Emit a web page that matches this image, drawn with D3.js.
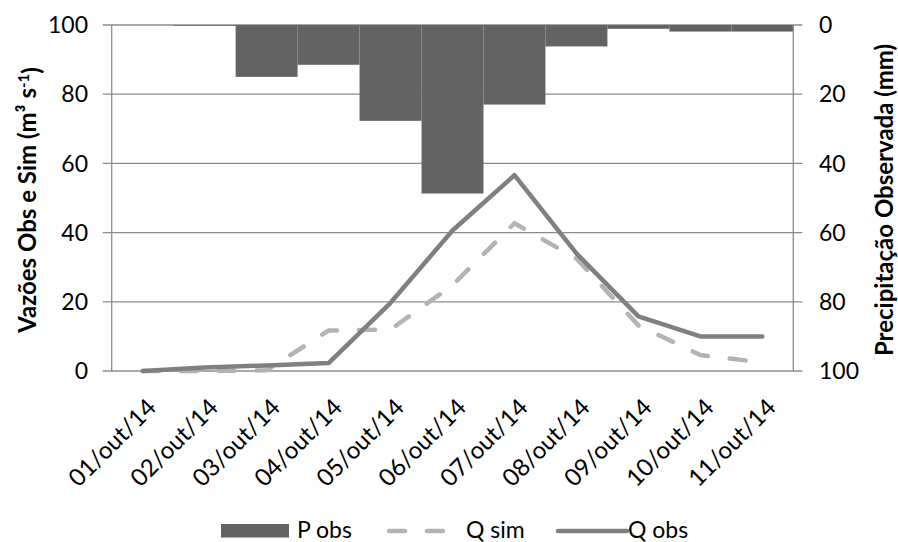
<!DOCTYPE html>
<html>
<head>
<meta charset="utf-8">
<script src="https://cdn.jsdelivr.net/npm/d3@7"></script>
<style>
  body { margin: 0; background: #fff; }
  text { font-family: Lato, "Open Sans", sans-serif; fill: #000; }
</style>
</head>
<body>
<div id="chart"></div>
<script>
// values
var days = ["01/out/14","02/out/14","03/out/14","04/out/14","05/out/14","06/out/14",
            "07/out/14","08/out/14","09/out/14","10/out/14","11/out/14"]
var pObs = [0, 0.2, 15, 11.5, 27.7, 48.7, 23, 6.2, 1.1, 1.9, 1.9]
var qSim = [0, 0, 0.2, 11.7, 12, 24.8, 42.7, 32.5, 13.2, 4.6, 2.5]
var qObs = [0, 1, 1.6, 2.3, 19.7, 40.6, 56.6, 34, 15.8, 10, 10]
var yTicks = [0, 20, 40, 60, 80, 100]

var W = 898, H = 542
var plotL = 111.7, plotR = 793.3, plotT = 25, plotB = 371

var svg = d3.select("#chart").append("svg").attr("width", W).attr("height", H)

var x = d3.scaleBand().domain(days).range([plotL, plotR]).padding(0)
var yL = d3.scaleLinear().domain([0, 100]).range([plotB, plotT])
var yR = d3.scaleLinear().domain([0, 100]).range([plotT, plotB])

// gridlines (with tick stubs on both sides)
svg.append("g").selectAll("line").data(yTicks).enter().append("line")
  .attr("x1", plotL - 9).attr("x2", plotR + 9)
  .attr("y1", d => yL(d)).attr("y2", d => yL(d))
  .style("stroke", "#8c8c8c").style("stroke-width", 1.3)

// precipitation bars hanging from the top
svg.append("g").selectAll("rect").data(pObs).enter().append("rect")
  .attr("x", (d, i) => x(days[i]))
  .attr("width", x.bandwidth())
  .attr("y", yR(0))
  .attr("height", d => yR(d) - yR(0))
  .style("fill", "#636363")

// axis lines
svg.append("line").attr("x1", plotL).attr("x2", plotL).attr("y1", plotT).attr("y2", plotB)
  .style("stroke", "#8c8c8c").style("stroke-width", 1.3)
svg.append("line").attr("x1", plotR).attr("x2", plotR).attr("y1", plotT).attr("y2", plotB)
  .style("stroke", "#8c8c8c").style("stroke-width", 1.3)

var cx = d => x(d) + x.bandwidth() / 2
var line = d3.line().x((d, i) => cx(days[i])).y(d => yL(d))

svg.append("path").datum(qSim).attr("d", line)
  .style("fill", "none").style("stroke", "#b3b3b3").style("stroke-width", 4.5)
  .style("stroke-dasharray", "16,22").style("stroke-linecap", "round")

svg.append("path").datum(qObs).attr("d", line)
  .style("fill", "none").style("stroke", "#808080").style("stroke-width", 4.5)
  .style("stroke-linejoin", "round").style("stroke-linecap", "round")

// tick labels
svg.append("g").selectAll("text").data(yTicks).enter().append("text")
  .attr("x", 88).attr("y", d => yL(d)).attr("dy", "0.36em")
  .attr("text-anchor", "end").style("font-size", "23px").text(d => d)

svg.append("g").selectAll("text").data(yTicks).enter().append("text")
  .attr("x", 819).attr("y", d => yR(d)).attr("dy", "0.36em")
  .style("font-size", "23px").text(d => d)

svg.append("g").selectAll("text").data(days).enter().append("text")
  .attr("transform", d => "translate(" + (cx(d) + 15) + "," + 409 + ") rotate(-45)")
  .attr("text-anchor", "end").style("font-size", "24px").text(d => d)

// axis titles
var lt = svg.append("text")
  .attr("transform", "translate(36," + ((plotT + plotB) / 2 + 2) + ") rotate(-90)")
  .attr("text-anchor", "middle").style("font-size", "24px").style("font-weight", "bold")
lt.append("tspan").text("Vazões Obs e Sim (m³ s")
lt.append("tspan").attr("dy", "-0.45em").style("font-size", "15px").text("-1")
lt.append("tspan").attr("dy", "0.45em").text(")")

svg.append("text")
  .attr("transform", "translate(893," + ((plotT + plotB) / 2 + 2) + ") rotate(-90)")
  .attr("text-anchor", "middle").style("font-size", "24px").style("font-weight", "bold")
  .text("Precipitação Observada (mm)")

// legend
var lg = svg.append("g")
lg.append("rect").attr("x", 221).attr("y", 524).attr("width", 68).attr("height", 13.5).style("fill", "#636363")
lg.append("text").attr("x", 297).attr("y", 538).style("font-size", "23px").text("P obs")
lg.append("line").attr("x1", 389).attr("x2", 450).attr("y1", 531).attr("y2", 531)
  .style("stroke", "#b3b3b3").style("stroke-width", 4.5)
  .style("stroke-dasharray", "16,22").style("stroke-linecap", "round")
lg.append("text").attr("x", 466).attr("y", 538).style("font-size", "23px").text("Q sim")
lg.append("line").attr("x1", 558).attr("x2", 627).attr("y1", 531).attr("y2", 531)
  .style("stroke", "#808080").style("stroke-width", 4.5).style("stroke-linecap", "round")
lg.append("text").attr("x", 628).attr("y", 538).style("font-size", "23px").text("Q obs")
</script>
</body>
</html>
